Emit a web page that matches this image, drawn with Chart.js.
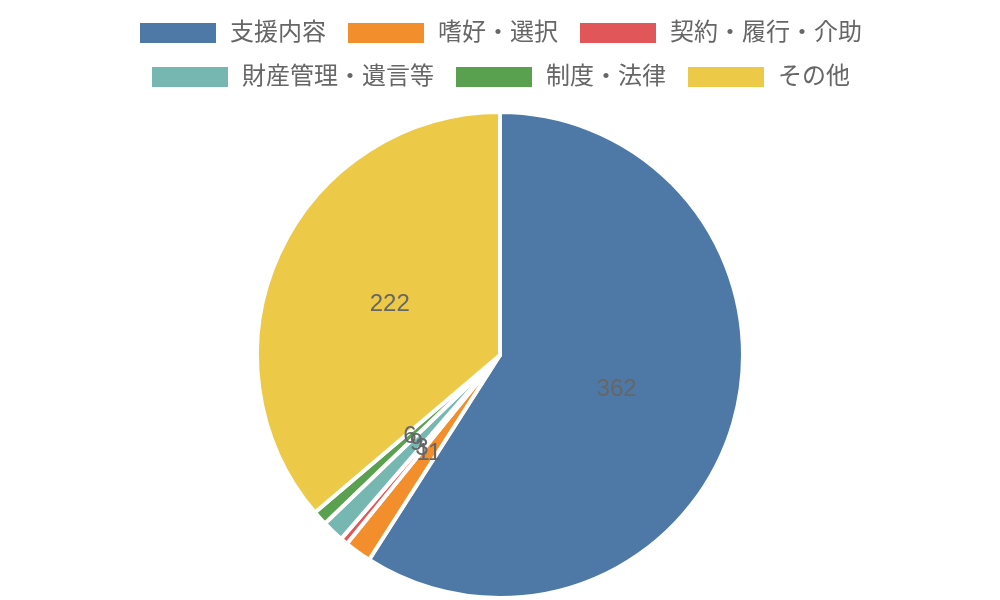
<!DOCTYPE html>
<html><head><meta charset="utf-8">
<script src="https://cdn.jsdelivr.net/npm/chart.js@4"></script>
<style>html,body{margin:0;padding:0;background:#fff}#w{width:1000px;height:600px}</style>
</head><body><div id="w"><canvas id="c"></canvas></div>
<script>
const categories = ["支援内容","嗜好・選択","契約・履行・介助","財産管理・遺言等","制度・法律","その他"];
const counts = [362, 11, 3, 9, 6, 222];
const colors = ["#4e79a7","#f28e2b","#e15759","#76b7b2","#59a14f","#edc948"];

const labelPlugin = {
  id: 'vals',
  afterDatasetsDraw(chart) {
    const ctx = chart.ctx;
    const meta = chart.getDatasetMeta(0);
    ctx.save();
    ctx.fillStyle = '#666';
    ctx.font = '24px "Liberation Sans", Arial, sans-serif';
    ctx.textAlign = 'center';
    ctx.textBaseline = 'middle';
    meta.data.forEach((arc, i) => {
      const p = arc.tooltipPosition();
      ctx.fillText(String(chart.data.datasets[0].data[i]), p.x, p.y);
    });
    ctx.restore();
  }
};
const legendGap = {
  id: 'legendGap',
  beforeInit(chart) {
    const orig = chart.legend.fit;
    chart.legend.fit = function () { orig.call(this); this.height += 11; };
  }
};

new Chart(document.getElementById('c'), {
  type: 'pie',
  data: { labels: categories, datasets: [{ data: counts, backgroundColor: colors, borderColor: '#fff', borderWidth: 4 }] },
  options: {
    responsive: true, maintainAspectRatio: false, animation: false,
    layout: { padding: { top: 1, bottom: 0 } },
    plugins: {
      legend: { position: 'top', labels: { boxWidth: 80, boxHeight: 24, padding: 20, color: '#666', font: { size: 24, family: '"Liberation Sans", "Noto Sans CJK JP", sans-serif' } } },
      tooltip: { enabled: false }
    }
  },
  plugins: [labelPlugin, legendGap]
});
</script></body></html>
